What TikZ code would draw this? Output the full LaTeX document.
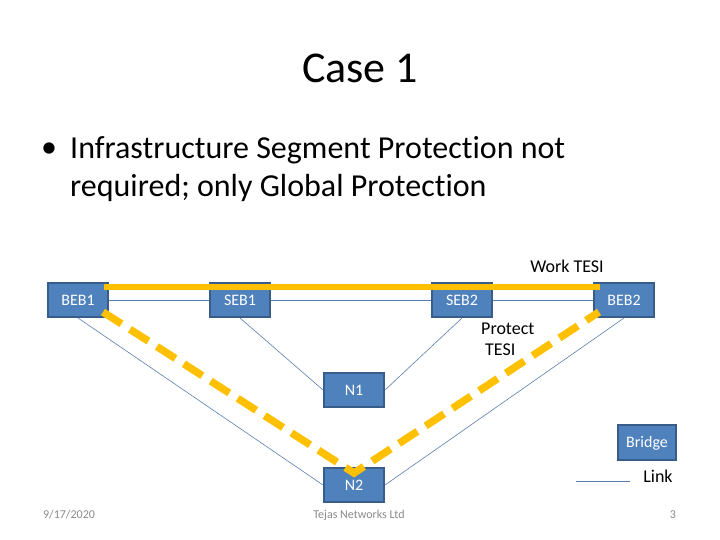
\documentclass[tikz,border=0pt]{standalone}
\usepackage{fontspec}
\setmainfont{Carlito}[RawFeature={-liga}]
\usetikzlibrary{positioning}

\begin{document}
\begin{tikzpicture}[x=1pt,y=1pt,
  box/.style={draw=cedge,fill=cbox,line width=2pt,text=white,minimum width=60pt,
    minimum height=34pt,inner sep=0pt,font=\fontsize{16}{19}\selectfont},
  link/.style={draw=clink,line width=0.6pt},
  work/.style={draw=cwork,line width=6pt},
  prot/.style={draw=cwork,line width=7.5pt,dash pattern=on 22pt off 10pt},
  lbl/.style={font=\fontsize{18}{21}\selectfont,align=left,inner sep=0pt},
  foot/.style={font=\fontsize{12}{14}\selectfont,text=cfoot}]
\definecolor{cbox}{HTML}{4F81BD}\definecolor{cedge}{HTML}{385D8A}
\definecolor{clink}{HTML}{5A7EAD}\definecolor{cwork}{HTML}{FFC000}
\definecolor{cfoot}{HTML}{8A8A8A}
\useasboundingbox (0,0) rectangle (720,540);
% title and bullet text
\node (title) at (360,472) {\fontsize{44}{53}\selectfont Case 1};
\node (bul) at (49,390) {\fontsize{32}{38}\selectfont\textbullet};
\node[anchor=west,inner sep=0pt] (line1) at (70,390)
  {\fontsize{32}{38}\selectfont Infrastructure Segment Protection not};
\node[anchor=west,inner sep=0pt] (line2) at (70,352)
  {\fontsize{32}{38}\selectfont required; only Global Protection};
% bridges
\node[box] (beb1) at (78,240) {BEB1};
\node[box] (seb1) at (240,240) {SEB1};
\node[box] (seb2) at (462,240) {SEB2};
\node[box] (beb2) at (624,240) {BEB2};
\node[box] (n1) at (354,150) {N1};
\node[box] (n2) at (354,55) {N2};
% links
\draw[link] (beb1) -- (seb1);
\draw[link] (seb1) -- (seb2);
\draw[link] (seb2) -- (beb2);
\draw[link] (beb1.south) -- (n2.west);
\draw[link] (seb1.south) -- (n1.west);
\draw[link] (seb2.south) -- (n1.east);
\draw[link] (beb2.south) -- (n2.east);
% work and protect TESI
\draw[work] ([shift={(-5,-5)}]beb1.north east) -- ([shift={(7,-5)}]beb2.north west);
\draw[prot,line join=miter] ([shift={(-6,6)}]beb1.south east) -- ([yshift=-6]n2.north)
  -- ([shift={(6,6)}]beb2.south west);
\node[lbl] (worklbl) at (567,274) {Work TESI};
\node[lbl,anchor=north west] (protlbl) at (481,217) {Protect\\\hspace{4pt}TESI};
% legend
\node[box,minimum width=58pt,minimum height=35pt] (bridge) at (647,97) {Bridge};
\coordinate (lg1) at (576,59);
\coordinate (lg2) at (630,59);
\draw[link] (lg1) -- (lg2);
\node[lbl] (linklbl) at (658,64) {Link};
% footer
\node[foot] (date) at (69,25) {9/17/2020};
\node[foot] (org) at (359,25) {Tejas Networks Ltd};
\node[foot] (page) at (673,25) {3};
\end{tikzpicture}
\end{document}
